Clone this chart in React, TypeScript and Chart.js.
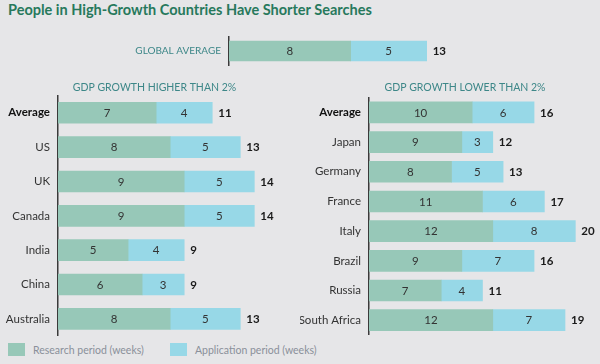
import React, { useEffect, useRef } from 'react';
import { Chart, registerables } from 'chart.js';

Chart.register(...registerables);

const GLOBAL_LABELS = ['GLOBAL AVERAGE'];
const GLOBAL_RESEARCH = [8];
const GLOBAL_APPLICATION = [5];

const HIGH_LABELS = ['Average', 'US', 'UK', 'Canada', 'India', 'China', 'Australia'];
const HIGH_RESEARCH = [7, 8, 9, 9, 5, 6, 8];
const HIGH_APPLICATION = [4, 5, 5, 5, 4, 3, 5];

const LOW_LABELS = ['Average', 'Japan', 'Germany', 'France', 'Italy', 'Brazil', 'Russia', 'South Africa'];
const LOW_RESEARCH = [10, 9, 8, 11, 12, 9, 7, 12];
const LOW_APPLICATION = [6, 3, 5, 6, 8, 7, 4, 7];

const SERIES_NAMES = ['Research period (weeks)', 'Application period (weeks)'];
const TITLE = 'People in High-Growth Countries Have Shorter Searches';
const HIGH_TITLE = 'GDP GROWTH HIGHER THAN 2%';
const LOW_TITLE = 'GDP GROWTH LOWER THAN 2%';

const GREEN = '#97c8b8';
const BLUE = '#97d8e7';
const BG = '#e6e6e8';
const TEAL = '#3d8788';
const FONT = 'Lato, "Open Sans", sans-serif';

const barLabelPlugin = {
  id: 'barLabels',
  afterDatasetsDraw(chart: any) {
    const ctx = chart.ctx;
    const n = chart.data.labels.length;
    ctx.save();
    ctx.textBaseline = 'middle';
    for (let i = 0; i < n; i++) {
      let total = 0;
      let endX = 0;
      let y = 0;
      chart.data.datasets.forEach((ds: any, di: number) => {
        const meta = chart.getDatasetMeta(di);
        const bar = meta.data[i];
        if (!bar) return;
        const p = bar.getProps(['x', 'base', 'y'], true);
        const v = ds.data[i];
        total += v;
        ctx.font = `11.5px ${FONT}`;
        ctx.fillStyle = '#333333';
        ctx.textAlign = 'center';
        ctx.fillText(String(v), (p.x + p.base) / 2, p.y + 0.5);
        endX = Math.max(endX, p.x);
        y = p.y;
      });
      ctx.font = `bold 11.5px ${FONT}`;
      ctx.fillStyle = '#1a1a1a';
      ctx.textAlign = 'left';
      ctx.fillText(String(total), endX + 6, y + 0.5);
    }
    ctx.restore();
  },
};

type PanelProps = {
  labels: string[];
  research: number[];
  application: number[];
  title?: string;
  titleBottom?: number;
  left: number;
  top: number;
  width: number;
  height: number;
  yWidth: number;
  xMax: number;
  barThickness: number;
  isGlobal?: boolean;
};

function Panel(props: PanelProps) {
  const ref = useRef<HTMLCanvasElement | null>(null);
  useEffect(() => {
    if (!ref.current) return;
    const chart = new Chart(ref.current, {
      type: 'bar',
      data: {
        labels: props.labels,
        datasets: [
          {
            label: SERIES_NAMES[0],
            data: props.research,
            backgroundColor: GREEN,
            borderWidth: 0,
            barThickness: props.barThickness,
          },
          {
            label: SERIES_NAMES[1],
            data: props.application,
            backgroundColor: BLUE,
            borderWidth: 0,
            barThickness: props.barThickness,
          },
        ],
      },
      options: {
        indexAxis: 'y',
        animation: false,
        responsive: false,
        maintainAspectRatio: false,
        events: [],
        layout: { autoPadding: false, padding: 0 },
        plugins: {
          legend: { display: false },
          tooltip: { enabled: false },
          title: props.title
            ? {
                display: true,
                text: props.title,
                color: TEAL,
                font: { family: FONT, size: 10.5, weight: 'normal', lineHeight: 1.2 },
                padding: { top: 2, bottom: props.titleBottom ?? 2 },
              }
            : { display: false },
        },
        scales: {
          x: {
            stacked: true,
            display: false,
            min: 0,
            max: props.xMax,
          },
          y: {
            stacked: true,
            afterFit: (scale: any) => {
              scale.width = props.yWidth;
              scale.paddingTop = 0;
              scale.paddingBottom = 0;
            },
            grid: { display: false, drawTicks: false },
            border: { display: true, color: '#3a3a3a', width: 1.5 },
            ticks: {
              padding: 8,
              color: (c: any) => (props.isGlobal ? TEAL : c.index === 0 ? '#111111' : '#333333'),
              font: (c: any) => ({
                family: FONT,
                size: props.isGlobal ? 10 : 11.5,
                weight: !props.isGlobal && c.index === 0 ? 'bold' : 'normal',
              }),
            },
          },
        },
      } as any,
      plugins: [barLabelPlugin],
    });
    return () => chart.destroy();
  }, []);
  return (
    <canvas
      ref={ref}
      width={props.width}
      height={props.height}
      style={{ position: 'absolute', left: props.left, top: props.top, width: props.width, height: props.height }}
    />
  );
}

export default function App() {
  return (
    <div
      style={{
        position: 'absolute',
        left: 0,
        top: 0,
        width: 600,
        height: 364,
        background: BG,
        overflow: 'hidden',
        fontFamily: FONT,
      }}
    >
      <div
        style={{
          position: 'absolute',
          left: 8,
          top: 1,
          fontSize: 14.5,
          fontWeight: 'bold',
          color: '#27795c',
          whiteSpace: 'nowrap',
        }}
      >
        {TITLE}
      </div>
      <Panel
        labels={GLOBAL_LABELS}
        research={GLOBAL_RESEARCH}
        application={GLOBAL_APPLICATION}
        left={0}
        top={36}
        width={600}
        height={30}
        yWidth={229}
        xMax={24.4}
        barThickness={20}
        isGlobal
      />
      <Panel
        labels={HIGH_LABELS}
        research={HIGH_RESEARCH}
        application={HIGH_APPLICATION}
        title={HIGH_TITLE}
        left={0}
        top={79}
        width={309}
        height={257}
        yWidth={58}
        xMax={17.9}
        barThickness={21}
      />
      <Panel
        labels={LOW_LABELS}
        research={LOW_RESEARCH}
        application={LOW_APPLICATION}
        title={LOW_TITLE}
        titleBottom={4}
        left={300}
        top={79}
        width={330}
        height={256}
        yWidth={69}
        xMax={25.3}
        barThickness={21}
      />
      {SERIES_NAMES.map((name, i) => (
        <div
          key={name}
          style={{
            position: 'absolute',
            left: i === 0 ? 8 : 170,
            top: 343,
            display: 'flex',
            alignItems: 'center',
            whiteSpace: 'nowrap',
          }}
        >
          <span style={{ display: 'inline-block', width: 17, height: 13, background: i === 0 ? GREEN : BLUE }} />
          <span style={{ marginLeft: 8, fontSize: 10.5, color: '#8a909a' }}>{name}</span>
        </div>
      ))}
    </div>
  );
}
